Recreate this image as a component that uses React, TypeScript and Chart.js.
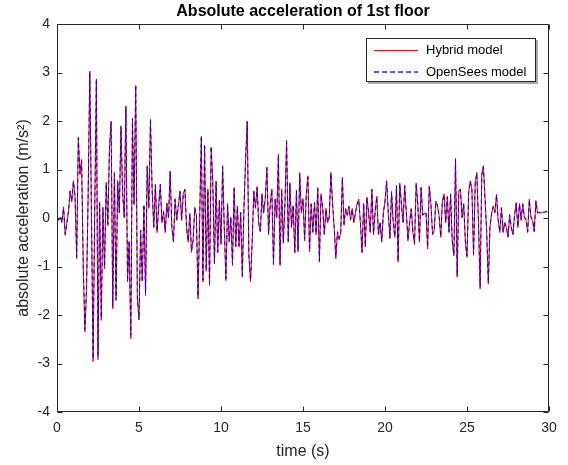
import React, { useEffect, useRef } from "react";
import { Chart, registerables } from "chart.js";

Chart.register(...registerables);

const DT = 0.1;
const X_TICKS = [0, 5, 10, 15, 20, 25, 30];
const Y_TICKS = [-4, -3, -2, -1, 0, 1, 2, 3, 4];
const TITLE = "Absolute acceleration of 1st floor";
const X_LABEL = "time (s)";
const Y_LABEL = "absolute acceleration (m/s²)";
const SERIES_NAMES = ["Hybrid model", "OpenSees model"];

const HYBRID = [
  0.0, -0.05, 0.02, -0.1, 0.23, -0.36, -0.1, 0.12, 0.56, 0.33,
  0.77, 0.43, -0.84, 1.67, 0.9, 1.21, -1.0, -2.35, -1.46, 0.5,
  3.03, 0.1, -2.96, 0.2, 2.83, -2.86, 0.33, -2.11, 0.19, -1.05,
  0.74, -0.16, 1.46, 1.97, -1.87, 0.95, -1.67, 0.74, 0.1, 1.87,
  0.53, 0.0, 2.31, -1.32, -0.5, -2.49, 2.0, 0.3, 2.72, -1.67,
  -2.08, -0.29, -1.29, 0.25, -1.6, 1.08, 0.2, 2.0, 0.6, -0.2,
  0.7, -0.3, 0.25, 0.68, -0.1, 0.15, -0.3, 0.29, 0.0, 0.97,
  -0.2, -0.5, 0.4, -0.05, 0.25, 0.56, -0.05, 0.49, 0.6, -0.2,
  -0.5, 0.1, -0.71, -0.45, 0.22, 0.05, -1.67, 0.0, 1.66, -1.32,
  1.49, -1.1, 0.6, -1.39, 1.45, 0.74, -0.95, 0.74, -0.72, 0.37,
  -0.55, 1.08, -0.2, -1.29, 0.3, -0.5, 0.0, -0.98, 0.63, -0.6,
  0.25, -0.6, 0.1, -1.22, 0.2, 1.21, 2.0, -0.78, -1.32, -0.5,
  0.56, 0.2, 0.65, -0.12, -0.29, 0.5, 0.1, 0.4, 1.05, -0.35,
  0.3, 0.6, -0.97, 0.4, 0.0, 1.32, -0.98, 0.6, -0.52, 0.3,
  1.6, -0.5, 0.73, -0.2, 0.25, -0.72, 0.58, -0.7, 0.94, 0.1,
  0.4, -0.47, 0.5, 0.87, -0.7, 0.3, -0.3, 0.3, -0.35, 0.63,
  -0.91, 0.5, 0.2, -0.35, 0.2, -0.1, 0.0, 0.94, 0.3, -0.2,
  -0.84, -0.3, -0.45, -0.3, 0.84, -0.15, 0.2, 0.05, 0.25, -0.05,
  0.2, -0.1, 0.1, 0.3, 0.39, -0.1, -0.72, 0.3, -0.6, 0.43,
  0.1, -0.3, 0.6, -0.35, 0.15, 0.45, -0.35, -0.1, -0.5, 0.1,
  0.35, 0.77, 0.1, -0.43, 0.55, -0.1, -0.4, 0.68, -0.91, 0.72,
  0.3, -0.1, 0.68, 0.1, -0.47, -0.1, 0.2, -0.3, -0.55, 0.72,
  0.3, -0.5, 0.64, 0.05, 0.1, 0.1, -0.64, 0.66, 0.3, -0.35,
  -0.25, 0.35, 0.25, 0.05, -0.4, 0.35, 0.5, -0.1, 0.45, -0.3,
  0.5, -0.5, -0.78, 1.23, -1.22, 0.57, 0.6, 0.0, 0.3, -0.5,
  -0.81, 0.53, 0.77, 0.6, -0.77, 0.72, 0.94, -0.1, -1.46, 0.9,
  1.08, 0.4, -0.3, -1.36, -0.2, 0.1, 0.25, 0.1, 0.49, -0.05,
  -0.3, 0.22, -0.3, -0.1, -0.2, -0.4, 0.05, -0.2, -0.35, 0.05,
  0.32, -0.2, 0.3, -0.05, 0.3, 0.0, -0.05, -0.3, 0.39, 0.0,
  -0.05, -0.29, 0.36, 0.1, 0.11, 0.1, 0.12, 0.11, 0.13, 0.12,
];

const OPENSEES = [
  0.0, -0.04, 0.03, -0.08, 0.2, -0.33, -0.12, 0.14, 0.55, 0.35,
  0.75, 0.45, -0.8, 1.64, 0.92, 1.18, -0.95, -2.3, -1.5, 0.48,
  3.0, 0.14, -2.9, 0.16, 2.88, -2.92, 0.3, -2.05, 0.22, -1.0,
  0.7, -0.12, 1.42, 2.0, -1.82, 0.9, -1.7, 0.78, 0.12, 1.9,
  0.5, 0.03, 2.28, -1.3, -0.46, -2.42, 2.05, 0.26, 2.75, -1.62,
  -2.1, -0.25, -1.32, 0.28, -1.55, 1.05, 0.24, 2.05, 0.57, -0.18,
  0.68, -0.27, 0.22, 0.7, -0.08, 0.12, -0.28, 0.31, 0.02, 0.95,
  -0.18, -0.47, 0.38, -0.03, 0.27, 0.54, -0.03, 0.5, 0.58, -0.22,
  -0.48, 0.08, -0.68, -0.47, 0.2, 0.07, -1.62, 0.03, 1.7, -1.28,
  1.52, -1.06, 0.57, -1.35, 1.48, 0.7, -0.92, 0.76, -0.7, 0.35,
  -0.52, 1.05, -0.18, -1.25, 0.28, -0.47, 0.03, -0.95, 0.6, -0.58,
  0.22, -0.57, 0.12, -1.18, 0.24, 1.18, 1.98, -0.75, -1.28, -0.48,
  0.53, 0.22, 0.62, -0.1, -0.27, 0.48, 0.12, 0.42, 1.02, -0.32,
  0.28, 0.58, -0.94, 0.38, 0.03, 1.28, -0.95, 0.57, -0.5, 0.32,
  1.56, -0.47, 0.7, -0.18, 0.27, -0.7, 0.55, -0.67, 0.9, 0.12,
  0.38, -0.44, 0.48, 0.84, -0.67, 0.28, -0.28, 0.32, -0.32, 0.6,
  -0.88, 0.48, 0.22, -0.32, 0.18, -0.08, 0.02, 0.92, 0.32, -0.18,
  -0.8, -0.28, -0.42, -0.28, 0.82, -0.12, 0.18, 0.07, 0.23, -0.03,
  0.18, -0.08, 0.12, 0.28, 0.37, -0.08, -0.7, 0.28, -0.57, 0.41,
  0.12, -0.28, 0.58, -0.32, 0.13, 0.43, -0.33, -0.08, -0.47, 0.12,
  0.33, 0.75, 0.12, -0.4, 0.53, -0.08, -0.38, 0.66, -0.88, 0.7,
  0.28, -0.08, 0.66, 0.12, -0.45, -0.08, 0.18, -0.28, -0.52, 0.7,
  0.28, -0.48, 0.62, 0.07, 0.08, 0.12, -0.6, 0.64, 0.28, -0.33,
  -0.23, 0.33, 0.27, 0.03, -0.38, 0.33, 0.48, -0.08, 0.43, -0.28,
  0.48, -0.47, -0.75, 1.2, -1.18, 0.55, 0.58, 0.02, 0.28, -0.47,
  -0.78, 0.5, 0.75, 0.58, -0.74, 0.7, 0.92, -0.08, -1.42, 0.88,
  1.05, 0.38, -0.28, -1.32, -0.18, 0.08, 0.23, 0.12, 0.47, -0.03,
  -0.28, 0.2, -0.28, -0.08, -0.18, -0.38, 0.07, -0.18, -0.33, 0.07,
  0.3, -0.18, 0.28, -0.03, 0.28, 0.02, -0.03, -0.28, 0.37, 0.02,
  -0.03, -0.27, 0.34, 0.11, 0.12, 0.11, 0.12, 0.12, 0.13, 0.13,
];

const FONT = '"Liberation Sans", Arial, Helvetica, sans-serif';
const AXIS_COLOR = "#262626";

const framePlugin = {
  id: "frame",
  beforeDraw(chart: any) {
    const ctx = chart.ctx;
    ctx.save();
    ctx.fillStyle = "#ffffff";
    ctx.fillRect(0, 0, chart.width, chart.height);
    ctx.restore();
  },
  afterDatasetsDraw(chart: any) {
    const ctx = chart.ctx;
    const { left, right, top, bottom } = chart.chartArea;
    const xs = chart.scales.x;
    const ys = chart.scales.y;
    ctx.save();
    ctx.strokeStyle = AXIS_COLOR;
    ctx.lineWidth = 1;
    const L = Math.round(left) + 0.5;
    const R = Math.round(right) - 0.5;
    const T = Math.round(top) + 0.5;
    const B = Math.round(bottom) - 0.5;
    ctx.beginPath();
    ctx.rect(L, T, R - L, B - T);
    ctx.stroke();
    const tl = 5;
    ctx.beginPath();
    X_TICKS.forEach((v) => {
      const px = Math.round(xs.getPixelForValue(v)) + 0.5;
      ctx.moveTo(px, B);
      ctx.lineTo(px, B - tl);
      ctx.moveTo(px, T);
      ctx.lineTo(px, T + tl);
    });
    Y_TICKS.forEach((v) => {
      const py = Math.round(ys.getPixelForValue(v)) + 0.5;
      ctx.moveTo(L, py);
      ctx.lineTo(L + tl, py);
      ctx.moveTo(R, py);
      ctx.lineTo(R - tl, py);
    });
    ctx.stroke();

    // legend
    const lx = 366, ly = 38, lw = 170, lh = 44;
    ctx.fillStyle = "#a8a8a8";
    ctx.fillRect(lx + 2, ly + 2, lw, lh);
    ctx.fillStyle = "#ffffff";
    ctx.fillRect(lx, ly, lw, lh);
    ctx.strokeStyle = AXIS_COLOR;
    ctx.strokeRect(lx + 0.5, ly + 0.5, lw - 1, lh - 1);
    ctx.lineWidth = 1;
    ctx.strokeStyle = "rgb(255,0,0)";
    ctx.beginPath();
    ctx.moveTo(374, 50.5);
    ctx.lineTo(418, 50.5);
    ctx.stroke();
    ctx.strokeStyle = "rgb(40,40,255)";
    ctx.lineWidth = 1.3;
    ctx.setLineDash([5, 3]);
    ctx.beginPath();
    ctx.moveTo(374, 72);
    ctx.lineTo(418, 72);
    ctx.stroke();
    ctx.setLineDash([]);
    ctx.lineWidth = 1;
    ctx.fillStyle = "#000000";
    ctx.font = `13px ${FONT}`;
    ctx.textAlign = "left";
    ctx.textBaseline = "middle";
    ctx.fillText(SERIES_NAMES[0], 426, 50);
    ctx.fillText(SERIES_NAMES[1], 426, 72);

    // titles
    const cx = (left + right) / 2;
    ctx.textAlign = "center";
    ctx.font = `bold 16px ${FONT}`;
    ctx.fillText(TITLE, cx, 12);
    ctx.fillStyle = AXIS_COLOR;
    ctx.font = `16px ${FONT}`;
    ctx.fillText(X_LABEL, cx, 452);
    ctx.save();
    ctx.translate(24, (top + bottom) / 2);
    ctx.rotate(-Math.PI / 2);
    ctx.fillText(Y_LABEL, 0, 0);
    ctx.restore();
    ctx.restore();
  },
};

export default function App() {
  const ref = useRef<HTMLCanvasElement | null>(null);
  useEffect(() => {
    if (!ref.current) return;
    const toPts = (arr: number[]) => arr.map((v, i) => ({ x: i * DT, y: v }));
    const chart = new Chart(ref.current, {
      type: "line",
      data: {
        datasets: [
          {
            label: SERIES_NAMES[0],
            data: toPts(HYBRID),
            borderColor: "#ff0000",
            borderWidth: 1,
            pointRadius: 0,
            tension: 0,
            order: 2,
          },
          {
            label: SERIES_NAMES[1],
            data: toPts(OPENSEES),
            borderColor: "#0000ff",
            borderWidth: 1,
            borderDash: [4, 3],
            pointRadius: 0,
            tension: 0,
            order: 1,
          },
        ],
      },
      options: {
        animation: false,
        responsive: false,
        devicePixelRatio: 1,
        layout: { padding: { top: 24, right: 19, left: 0, bottom: 0 } },
        plugins: {
          legend: { display: false },
          title: { display: false },
          tooltip: { enabled: false },
        },
        scales: {
          x: {
            type: "linear",
            min: 0,
            max: 30,
            afterBuildTicks: (axis: any) => {
              axis.ticks = X_TICKS.map((v) => ({ value: v }));
            },
            ticks: {
              color: AXIS_COLOR,
              font: { family: FONT, size: 14 },
              padding: 8,
              maxRotation: 0,
            },
            grid: { display: false, drawTicks: false },
            border: { display: false },
            afterFit: (axis: any) => {
              axis.height = 53;
            },
          },
          y: {
            type: "linear",
            min: -4,
            max: 4,
            afterBuildTicks: (axis: any) => {
              axis.ticks = Y_TICKS.map((v) => ({ value: v }));
            },
            ticks: {
              color: AXIS_COLOR,
              font: { family: FONT, size: 14 },
              padding: 7,
            },
            grid: { display: false, drawTicks: false },
            border: { display: false },
            afterFit: (axis: any) => {
              axis.width = 57;
            },
          },
        },
      },
      plugins: [framePlugin],
    });
    return () => chart.destroy();
  }, []);
  return (
    <div style={{ position: "fixed", left: 0, top: 0, width: 568, height: 465, background: "#fff" }}>
      <canvas ref={ref} width={568} height={465} style={{ display: "block" }} />
    </div>
  );
}
